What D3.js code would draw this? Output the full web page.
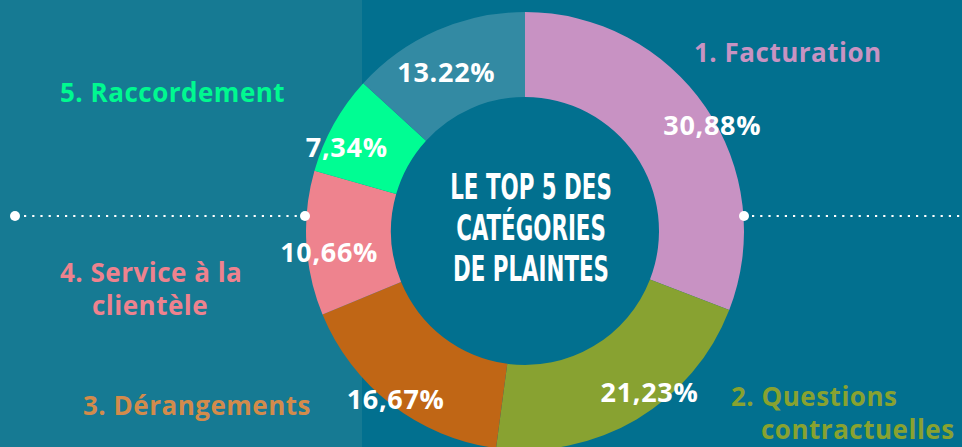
<!DOCTYPE html>
<html><head><meta charset="utf-8">
<script src="https://cdn.jsdelivr.net/npm/d3@7"></script>
<style>html,body{margin:0;padding:0;background:#02708f;overflow:hidden}</style>
</head><body><svg id="chart" width="962" height="447"></svg>
<script>
// ---- data ----
const categories = ["1. Facturation", "2. Questions contractuelles", "3. Dérangements", "4. Service à la clientèle", "5. Raccordement", "Autres"];
const values = [30.88, 21.23, 16.67, 10.66, 7.34, 13.22];
const valueLabels = ["30,88%", "21,23%", "16,67%", "10,66%", "7,34%", "13.22%"];
const categoryLines = [["1. Facturation"], ["2. Questions", "contractuelles"], ["3. Dérangements"], ["4. Service à la", "clientèle"], ["5. Raccordement"], []];
const centerTitle = ["LE TOP 5 DES", "CATÉGORIES", "DE PLAINTES"];

// ---- style / layout ----
const W = 962, H = 447;
const sliceColors = ["#c892c3", "#88a231", "#c06615", "#ee838e", "#00fd93", "#338aa3"];
const labelColors = ["#c893c2", "#88a230", "#d38b4b", "#ee828e", "#00f990", "#338aa3"];
const cx = 525, cy = 231, R = 219, r = 134;
const pctRadius = [215, 204, 212, 197, 197, 177];
const pctAngleShift = [5, -7, 0, -3, -4, -2.6];
const catPos = [ [[694, 62]], [[731, 406], [761, 439]], [[83, 415]], [[60, 282], [92, 315]], [[60, 102]], [] ];

const svg = d3.select("#chart");
svg.append("rect").attr("width", W).attr("height", H).attr("fill", "#02708f");
svg.append("rect").attr("width", 362).attr("height", H).attr("fill", "#167a93");

// dotted guide lines
const dotY = 216;
function dotted(x1, x2) {
  svg.append("line").attr("x1", x1).attr("x2", x2).attr("y1", dotY).attr("y2", dotY)
    .attr("stroke", "#fff").attr("stroke-width", 2.2).attr("stroke-dasharray", "2.2 6");
}
dotted(24, 298);
dotted(752, 962);

const data = categories.map((c, i) => ({ cat: c, value: values[i], i }));
const pie = d3.pie().sort(null).value(d => d.value);
const arc = d3.arc().innerRadius(r).outerRadius(R);
const g = svg.append("g").attr("transform", `translate(${cx},${cy})`);
const arcs = pie(data);
g.selectAll("path.slice").data(arcs).join("path").attr("class", "slice")
  .attr("d", arc).attr("fill", d => sliceColors[d.data.i]);

// big dots
[[15, dotY], [305, dotY], [744, dotY], [541, 452]].forEach(p => {
  svg.append("circle").attr("cx", p[0]).attr("cy", p[1]).attr("r", 5).attr("fill", "#fff");
});

// percentage labels
g.selectAll("text.pct").data(arcs).join("text").attr("class", "pct")
  .attr("transform", d => {
    const a = (d.startAngle + d.endAngle) / 2 + pctAngleShift[d.data.i] * Math.PI / 180;
    const rr = pctRadius[d.data.i];
    return `translate(${rr * Math.sin(a)},${-rr * Math.cos(a)})`;
  })
  .attr("text-anchor", "middle").attr("dy", "0.36em")
  .attr("font-family", "'Open Sans', sans-serif").attr("font-weight", 700)
  .attr("font-size", 27).attr("letter-spacing", 0.7).attr("fill", "#fff")
  .text(d => valueLabels[d.data.i]);

// category labels
categoryLines.forEach((lines, i) => {
  lines.forEach((t, j) => {
    svg.append("text").attr("x", catPos[i][j][0]).attr("y", catPos[i][j][1])
      .attr("font-family", "'Open Sans', sans-serif").attr("font-weight", 700)
      .attr("font-size", 26).attr("letter-spacing", 0.5).attr("fill", labelColors[i]).text(t);
  });
});

// center title
const tg = svg.append("g").attr("transform", `translate(${cx + 6},0) scale(0.66,1)`);
centerTitle.forEach((t, k) => {
  tg.append("text").attr("x", 0).attr("y", 199 + k * 41).attr("text-anchor", "middle")
    .attr("font-family", "'Liberation Sans Narrow', 'DejaVu Sans Condensed', sans-serif")
    .attr("font-weight", 700).attr("font-size", 36).attr("fill", "#fff").text(t);
});
</script></body></html>
